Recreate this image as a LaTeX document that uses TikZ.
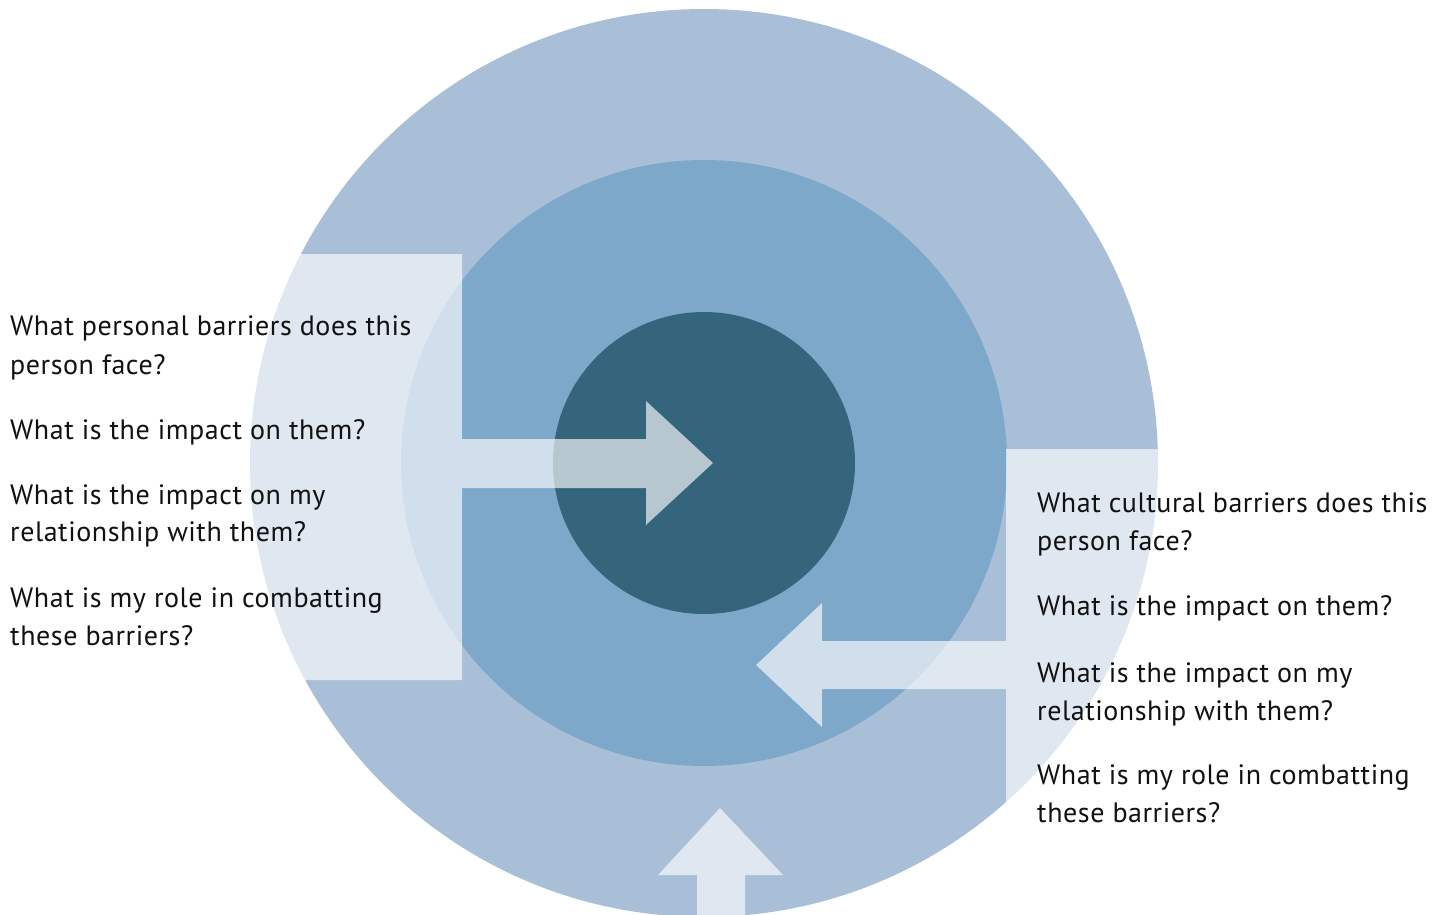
\documentclass[tikz,border=0pt]{standalone}
\usepackage{fontspec}
\setmainfont[LetterSpace=2]{PT Sans}
\definecolor{outerc}{HTML}{A9BFD7}
\definecolor{midc}{HTML}{7EA8C9}
\definecolor{innerc}{HTML}{35657D}
\definecolor{txtc}{HTML}{111111}
\tikzset{
  veil/.style={fill=white, fill opacity=0.64, draw=none},
  q/.style={anchor=base west, inner sep=0pt, text=txtc, font=\fontsize{28}{32}\selectfont}
}
\begin{document}
\begin{tikzpicture}[x=1pt,y=-1pt]
\useasboundingbox (0,0) rectangle (1448,915);
\begin{scope}
\clip (0,0) rectangle (1448,915);
\fill[outerc] (704,463) circle (454);
\fill[midc] (704,463) circle (303);
\fill[innerc] (704,463) circle (151);
% left panel with arrow
\path[veil] (0,254) -- (462,254) -- (462,439) -- (646,439) -- (646,401) -- (713,463)
  -- (646,525) -- (646,488) -- (462,488) -- (462,680) -- (0,680) -- cycle;
% right panel with arrow
\path[veil] (1006,449) -- (1448,449) -- (1448,915) -- (1006,915) -- (1006,689)
  -- (822,689) -- (822,727) -- (756,665) -- (822,603) -- (822,641) -- (1006,641) -- cycle;
% bottom arrow
\path[veil] (720,808) -- (783,875) -- (745,875) -- (745,915) -- (697,915) -- (697,875)
  -- (658,875) -- cycle;
\end{scope}
% left texts
\node[q] (l1) at (10,335) {What personal barriers does this};
\node[q] (l2) at (10,374) {person face?};
\node[q] (l3) at (10,439) {What is the impact on them?};
\node[q] (l4) at (10,504) {What is the impact on my};
\node[q] (l5) at (10,541) {relationship with them?};
\node[q] (l6) at (10,607) {What is my role in combatting};
\node[q] (l7) at (10,645) {these barriers?};
% right texts
\node[q] (r1) at (1037,512) {What cultural barriers does this};
\node[q] (r2) at (1037,550) {person face?};
\node[q] (r3) at (1037,615) {What is the impact on them?};
\node[q] (r4) at (1037,682) {What is the impact on my};
\node[q] (r5) at (1037,720) {relationship with them?};
\node[q] (r6) at (1037,784) {What is my role in combatting};
\node[q] (r7) at (1037,822) {these barriers?};
\end{tikzpicture}
\end{document}
